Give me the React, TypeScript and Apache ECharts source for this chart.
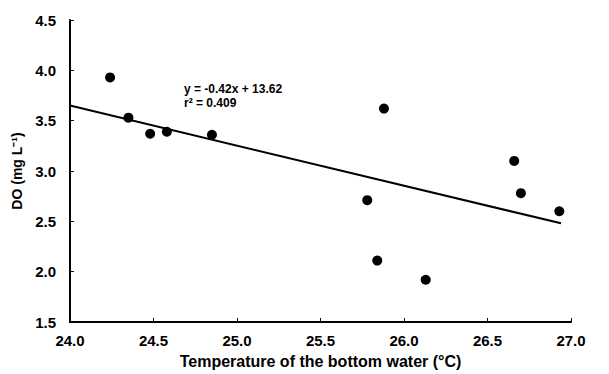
import React, { useEffect, useRef } from "react";
import * as echarts from "echarts";

const temperature = [24.24, 24.35, 24.48, 24.58, 24.85, 25.88, 25.78, 25.84, 26.13, 26.66, 26.70, 26.93];
const dissolvedOxygen = [3.93, 3.53, 3.37, 3.39, 3.36, 3.62, 2.71, 2.11, 1.92, 3.10, 2.78, 2.60];
const fitX = [24.0, 26.94];
const fitY = [3.65, 2.48];
const equationLines = ["y = -0.42x + 13.62", "r\u00b2 = 0.409"];

export default function App() {
  const ref = useRef<HTMLDivElement>(null);
  useEffect(() => {
    if (!ref.current) return;
    const chart = echarts.init(ref.current, null, { renderer: "svg" });
    const font = "'Liberation Sans', Arial, sans-serif";
    chart.setOption({
      animation: false,
      backgroundColor: "#ffffff",
      grid: { left: 70, top: 20, right: 38, bottom: 51, containLabel: false },
      xAxis: {
        type: "value",
        min: 24,
        max: 27,
        interval: 0.5,
        name: "Temperature of the bottom water (\u00b0C)",
        nameLocation: "middle",
        nameGap: 31,
        nameTextStyle: { fontFamily: font, fontWeight: "bold", fontSize: 16, color: "#000" },
        axisLine: { lineStyle: { color: "#000", width: 2 } },
        axisTick: { inside: true, length: 4, lineStyle: { color: "#000", width: 1 } },
        axisLabel: {
          fontFamily: font, fontWeight: "bold", fontSize: 15, color: "#000", margin: 11,
          formatter: (v: number) => v.toFixed(1),
        },
        splitLine: { show: false },
      },
      yAxis: {
        type: "value",
        min: 1.5,
        max: 4.5,
        interval: 0.5,
        name: "DO (mg L\u207b\u00b9)",
        nameLocation: "middle",
        nameGap: 43,
        nameTextStyle: { fontFamily: font, fontWeight: "bold", fontSize: 14, color: "#000" },
        axisLine: { lineStyle: { color: "#000", width: 2 } },
        axisTick: { inside: true, length: 4, lineStyle: { color: "#000", width: 1 } },
        axisLabel: {
          fontFamily: font, fontWeight: "bold", fontSize: 15, color: "#000", margin: 14,
          formatter: (v: number) => v.toFixed(1),
        },
        splitLine: { show: false },
      },
      series: [
        {
          type: "scatter",
          data: temperature.map((t, i) => [t, dissolvedOxygen[i]]),
          symbol: "circle",
          symbolSize: 10,
          itemStyle: { color: "#000", opacity: 1 },
        },
        {
          type: "line",
          data: fitX.map((x, i) => [x, fitY[i]]),
          showSymbol: false,
          symbol: "none",
          lineStyle: { color: "#000", width: 2 },
        },
      ],
      graphic: [
        {
          type: "text",
          left: 184,
          top: 82,
          style: {
            text: equationLines.join("\n"),
            font: `bold 12px ${font}`,
            fill: "#000",
            lineHeight: 14,
          },
        },
      ],
    });
    return () => chart.dispose();
  }, []);
  return <div ref={ref} style={{ width: 609, height: 374, position: "absolute", left: 0, top: 0 }} />;
}
